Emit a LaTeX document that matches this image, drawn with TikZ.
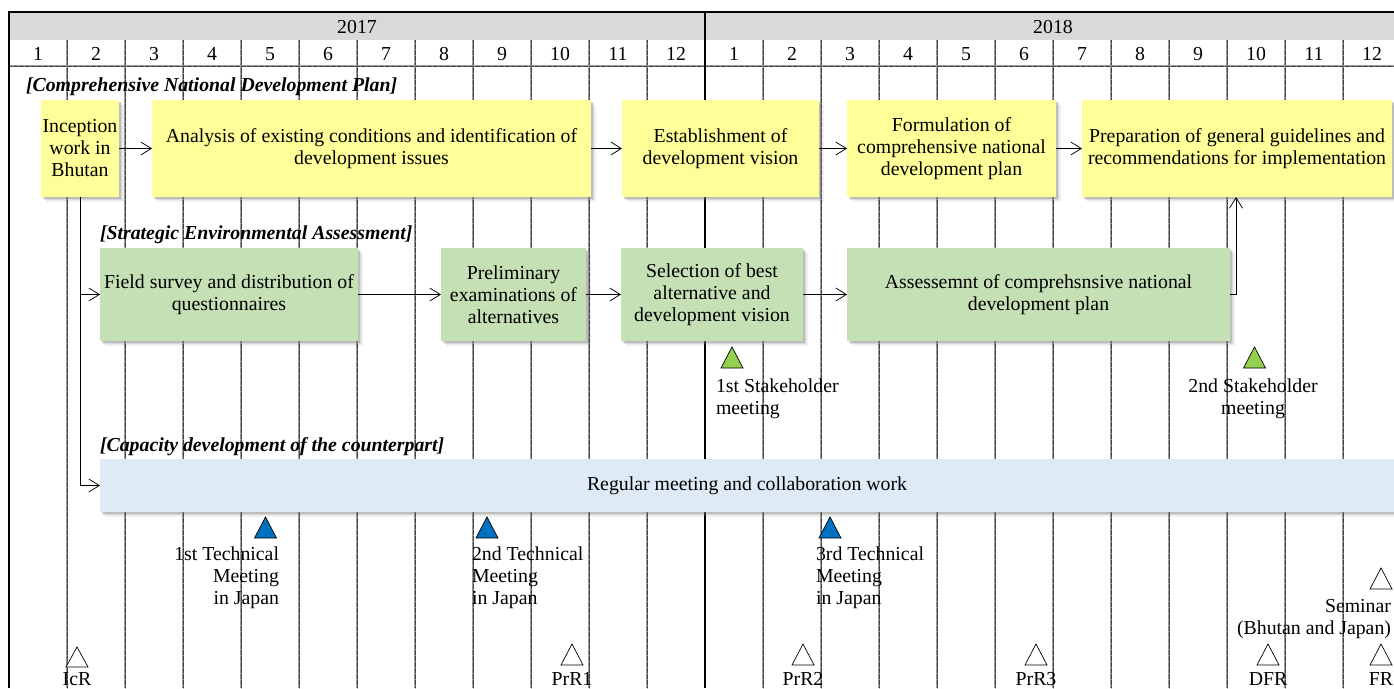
\documentclass[tikz,border=0pt]{standalone}
\usepackage{fontspec}
\setmainfont{Liberation Serif}
\usetikzlibrary{arrows.meta,shadows}
\definecolor{yfill}{HTML}{FFFF99}
\definecolor{gfill}{HTML}{C5E0B4}
\definecolor{bfill}{HTML}{DEEAF6}
\definecolor{hgray}{HTML}{D9D9D9}
\definecolor{gtri}{HTML}{92D050}
\definecolor{btri}{HTML}{0070C0}
\newcommand\mtri[4]{\draw[fill=#4, line width=0.7pt] (#1-11,#3) -- (#1,#2) -- (#1+11,#3) -- cycle;}
\begin{document}
\begin{tikzpicture}[x=1pt,y=-1pt,
  every node/.style={font=\fontsize{19.8}{22}\selectfont, inner sep=0pt, outer sep=0pt},
  shd/.style={drop shadow={shadow xshift=1.5pt,shadow yshift=-1.5pt,opacity=0.3},
              drop shadow={shadow xshift=3pt,shadow yshift=-3pt,opacity=0.2},
              drop shadow={shadow xshift=4.5pt,shadow yshift=-4.5pt,opacity=0.12}},
  ytask/.style={shd, fill=yfill, align=center, minimum height=97pt},
  gtask/.style={shd, fill=gfill, align=center, minimum height=93pt},
  btask/.style={shd, fill=bfill, align=center, minimum height=53pt},
  hd/.style={font=\fontsize{19.8}{22}\selectfont\bfseries\itshape, anchor=base west},
  gridbase/.style={draw=black!40, line width=1.2pt},
  griddots/.style={draw=black!75, line width=0.9pt, dash pattern=on 0.4pt off 0.8pt},
  arr/.style={-{Straight Barb[length=10.5pt,width=13pt]}, line width=0.75pt},
  lbl/.style={align=left, anchor=base west},
]
\useasboundingbox (0,0) rectangle (1394,688);
\clip (0,0) rectangle (1394,688);
\fill[white] (0,0) rectangle (1394,688);
% header
\fill[hgray] (9,12) rectangle (1394,40);
\node[anchor=base] (y17) at (357,33) {2017};
\node[anchor=base] (y18) at (1053,33) {2018};
\foreach \m in {1,...,12} {
  \node[anchor=base] at (9+58*\m-29,60) {\m};
  \node[anchor=base] at (705+58*\m-29,60) {\m};
}
% grid
\foreach \k in {1,...,11,13,14,...,23} {
  \draw[gridbase] (9+58*\k,40) -- (9+58*\k,688);
  \draw[griddots] (9+58*\k,40) -- (9+58*\k,688);
}
\draw[gridbase] (9,66) -- (1394,66);
\draw[griddots] (9,66) -- (1394,66);
\draw[line width=1.8pt] (9,688) -- (9,12) -- (1394,12);
\draw[line width=1.8pt] (705,12) -- (705,688);
% section headings
\node[hd] (h1) at (26,91) {[Comprehensive National Development Plan]};
\node[hd] (h2) at (100,239) {[Strategic Environmental Assessment]};
\node[hd] (h3) at (100,451) {[Capacity development of the counterpart]};
% yellow tasks
\node[ytask, minimum width=78pt] (inc) at (80,148.5) {Inception\\work in\\Bhutan};
\node[ytask, minimum width=439pt] (ana) at (371.5,148.5) {Analysis of existing conditions and identification of\\development issues};
\node[ytask, minimum width=197pt] (est) at (720.5,148.5) {Establishment of\\development vision};
\node[ytask, minimum width=209pt] (frm) at (951.5,148.5) {Formulation of\\comprehensive national\\development plan};
\node[ytask, minimum width=310pt] (prep) at (1237,148.5) {Preparation of general guidelines and\\recommendations for implementation};
% green tasks
\node[gtask, minimum width=258pt] (fld) at (229,294.5) {Field survey and distribution of\\questionnaires};
\node[gtask, minimum width=145pt] (pre) at (513.5,294.5) {Preliminary\\examinations of\\alternatives};
\node[gtask, minimum width=182pt] (sel) at (712,294.5) {Selection of best\\alternative and\\development vision};
\node[gtask, minimum width=383pt] (asm) at (1038.5,294.5) {Assessemnt of comprehsnsive national\\development plan};
% blue task
\node[btask, minimum width=1294pt] (reg) at (747,485.5) {Regular meeting and collaboration work};
% connectors
\draw[arr] (inc) -- (ana);
\draw[arr] (ana) -- (est);
\draw[arr] (est) -- (frm);
\draw[arr] (frm) -- (prep);
\draw[arr] (fld) -- (pre);
\draw[arr] (pre) -- (sel);
\draw[arr] (sel) -- (asm);
\coordinate (t1) at (1236,294.5);
\draw[arr] (asm.east) -- (t1) -- (t1 |- prep.south);
\draw[arr] (inc.south) |- (fld.west);
\draw[arr] (inc.south) |- (reg.west);
% stakeholder meetings
\mtri{732}{347}{368}{gtri}
\mtri{1254.5}{347}{368}{gtri}
\node[lbl] (s1) at (716,414) {1st Stakeholder\\meeting};
\node[align=center, anchor=base] (s2) at (1253,414) {2nd Stakeholder\\meeting};
% technical meetings
\mtri{265.5}{517}{538}{btri}
\mtri{487}{517}{538}{btri}
\mtri{830}{517}{538}{btri}
\node[align=right, anchor=base east] (tm1) at (279,604) {1st Technical\\Meeting\\in Japan};
\node[lbl] (tm2) at (472,604) {2nd Technical\\Meeting\\in Japan};
\node[lbl] (tm3) at (816,604) {3rd Technical\\Meeting\\in Japan};
% seminar
\mtri{1381}{568}{589}{white}
\node[align=right, anchor=base east] (sem) at (1391,634) {Seminar\\(Bhutan and Japan)};
% reports
\mtri{77}{647}{667}{white}
\mtri{572}{644}{665}{white}
\mtri{803}{644}{665}{white}
\mtri{1036}{644}{665}{white}
\mtri{1268}{644}{665}{white}
\mtri{1381}{644}{665}{white}
\node[anchor=base] (r0) at (77,685) {IcR};
\node[anchor=base] (r1) at (572,685) {PrR1};
\node[anchor=base] (r2) at (803,685) {PrR2};
\node[anchor=base] (r3) at (1036,685) {PrR3};
\node[anchor=base] (r4) at (1268,685) {DFR};
\node[anchor=base] (r5) at (1381,685) {FR};
\end{tikzpicture}
\end{document}
